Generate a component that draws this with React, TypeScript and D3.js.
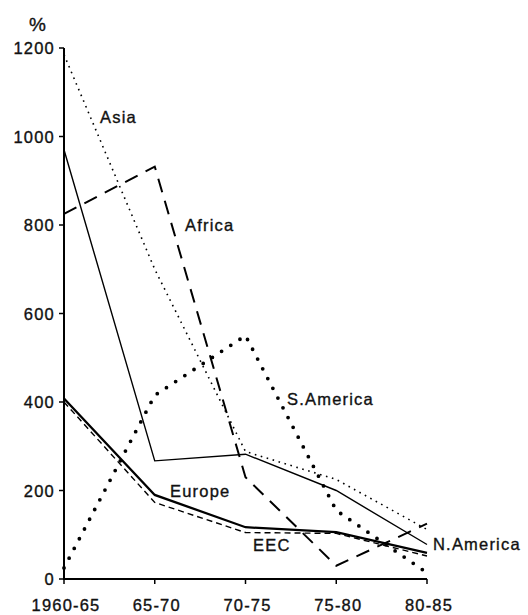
import React from "react";
import * as d3 from "d3";

const periods = ["1960-65", "65-70", "70-75", "75-80", "80-85"];
const yTicks = [0, 200, 400, 600, 800, 1000, 1200];

const asia = [1185, 700, 288, 225, 112];
const africa = [825, 932, 230, 30, 125];
const sAmerica = [25, 415, 550, 155, 14];
const nAmerica = [970, 267, 282, 200, 78];
const europe = [408, 190, 117, 106, 59];
const eec = [400, 173, 105, 103, 52];

const seriesNames = ["Asia", "Africa", "S.America", "N.America", "Europe", "EEC"];

const W = 528;
const H = 615;
const FONT = "'Liberation Sans', Arial, Helvetica, sans-serif";

export default function App() {
  const x = d3.scaleLinear().domain([0, periods.length - 1]).range([64, 427]);
  const y = d3.scaleLinear().domain([0, 1200]).range([579, 48]);
  const line = d3
    .line<number>()
    .x((_, i) => x(i))
    .y((d) => y(d));

  const styles = [
    { data: asia, w: 1.6, dash: "1.6 4.6", cap: "butt" },
    { data: africa, w: 2, dash: "14 9", cap: "butt" },
    { data: sAmerica, w: 3.8, dash: "0 11", cap: "round" },
    { data: nAmerica, w: 1.4, dash: "none", cap: "butt" },
    { data: europe, w: 2.3, dash: "none", cap: "butt" },
    { data: eec, w: 1.4, dash: "6 4", cap: "butt" },
  ];

  const labels = [
    { name: seriesNames[0], x: 100, y: 123 },
    { name: seriesNames[1], x: 185, y: 231 },
    { name: seriesNames[2], x: 287, y: 405 },
    { name: seriesNames[3], x: 433, y: 550 },
    { name: seriesNames[4], x: 170, y: 497 },
    { name: seriesNames[5], x: 253, y: 551 },
  ];

  const textStyle = {
    fontFamily: FONT,
    fontSize: 16.5,
    letterSpacing: "1.2px",
    fill: "#111",
    stroke: "#111",
    strokeWidth: 0.35,
  } as React.CSSProperties;

  return (
    <svg
      width={W}
      height={H}
      style={{ position: "absolute", left: 0, top: 0, background: "#fff" }}
    >
      <rect x={0} y={0} width={W} height={H} fill="#fff" />
      {/* axes */}
      <line x1={64} y1={y(1200)} x2={64} y2={y(0)} stroke="#000" strokeWidth={2} />
      <line x1={63} y1={y(0)} x2={x(4)} y2={y(0)} stroke="#000" strokeWidth={2} />
      {yTicks.map((t) => (
        <g key={t}>
          <line x1={59} x2={64} y1={y(t)} y2={y(t)} stroke="#000" strokeWidth={1.5} />
          <text x={55} y={y(t) + 6} textAnchor="end" style={textStyle}>
            {t}
          </text>
        </g>
      ))}
      {periods.map((p, i) => (
        <g key={p}>
          <line x1={x(i)} x2={x(i)} y1={y(0)} y2={y(0) + 5} stroke="#000" strokeWidth={1.5} />
          <text x={x(i) + 2} y={611} textAnchor="middle" style={textStyle}>
            {p}
          </text>
        </g>
      ))}
      <text x={29} y={31} style={{ ...textStyle, fontSize: 19, letterSpacing: "0px" }}>
        %
      </text>
      {/* series */}
      {styles.map((s, i) => (
        <path
          key={i}
          d={line(s.data) || ""}
          fill="none"
          stroke="#000"
          strokeWidth={s.w}
          strokeDasharray={s.dash}
          strokeLinecap={s.cap as any}
          strokeLinejoin="miter"
        />
      ))}
      {labels.map((l) => (
        <text key={l.name} x={l.x} y={l.y} style={textStyle}>
          {l.name}
        </text>
      ))}
    </svg>
  );
}
